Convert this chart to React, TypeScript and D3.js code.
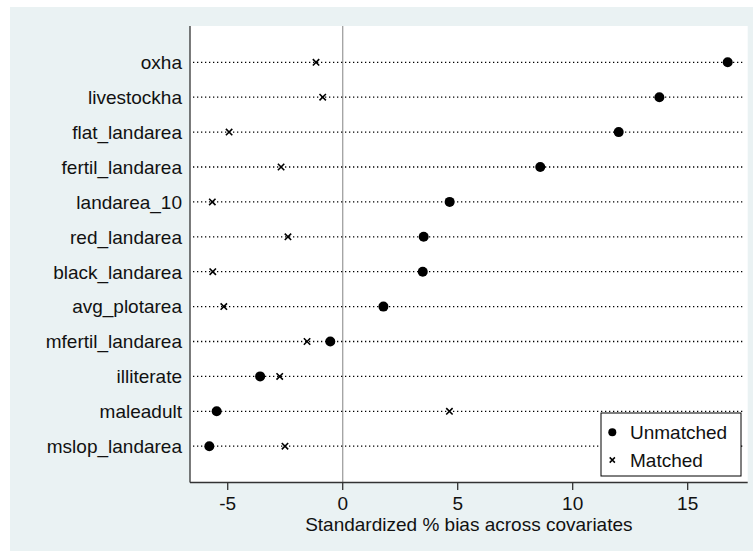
import React from "react";
import * as d3 from "d3";

const covariates = [
  "oxha",
  "livestockha",
  "flat_landarea",
  "fertil_landarea",
  "landarea_10",
  "red_landarea",
  "black_landarea",
  "avg_plotarea",
  "mfertil_landarea",
  "illiterate",
  "maleadult",
  "mslop_landarea",
];
const unmatched = [16.74, 13.77, 12.0, 8.59, 4.65, 3.52, 3.48, 1.77, -0.54, -3.59, -5.48, -5.8];
const matched = [-1.16, -0.87, -4.94, -2.68, -5.67, -2.38, -5.65, -5.17, -1.55, -2.74, 4.64, -2.51];
const xTicks = [-5, 0, 5, 10, 15];
const xTitle = "Standardized % bias across covariates";
const legendLabels = ["Unmatched", "Matched"];

const W = 753;
const H = 551;
const FONT = "'Liberation Sans', Arial, Helvetica, sans-serif";

export default function App() {
  const plot = { left: 190, right: 747.7, top: 26, bottom: 482.5 };
  const x = d3.scaleLinear().domain([-6.64, 17.61]).range([plot.left, plot.right]);
  const y = d3.scalePoint<string>().domain(covariates).range([plot.top, plot.bottom]).padding(1.04);

  const xMark = (cx: number, cy: number, s: number, key: string, sw = 1.6) => (
    <path
      key={key}
      d={`M${cx - s},${cy - s}L${cx + s},${cy + s}M${cx - s},${cy + s}L${cx + s},${cy - s}`}
      stroke="#000"
      strokeWidth={sw}
      fill="none"
    />
  );

  const leg = { x: 601, y: 413, w: 140, h: 63 };
  const legRows = [432.3, 460];

  return (
    <div style={{ position: "absolute", left: 0, top: 0 }}>
      <svg width={W} height={H} style={{ display: "block" }} fontFamily={FONT}>
        <rect x={0} y={0} width={W} height={H} fill="#ffffff" />
        <rect x={10} y={7} width={W - 10} height={H - 7} fill="#EAF2F3" />
        <rect
          x={plot.left}
          y={plot.top}
          width={plot.right - plot.left}
          height={plot.bottom - plot.top}
          fill="#ffffff"
        />
        {/* zero reference line */}
        <line x1={x(0)} x2={x(0)} y1={plot.top} y2={plot.bottom} stroke="#a0a0a0" strokeWidth={1.3} />
        {/* dotted row lines */}
        {covariates.map((c) => (
          <line
            key={"l" + c}
            x1={plot.left + 3}
            x2={plot.right - 4}
            y1={y(c)}
            y2={y(c)}
            stroke="#000"
            strokeWidth={1.3}
            strokeDasharray="1.3,2.7"
          />
        ))}
        {/* matched markers */}
        {covariates.map((c, i) => xMark(x(matched[i]), y(c)!, 3.2, "m" + c))}
        {/* unmatched markers */}
        {covariates.map((c, i) => (
          <circle key={"u" + c} cx={x(unmatched[i])} cy={y(c)} r={5} fill="#000" />
        ))}
        {/* axes */}
        <line x1={plot.left} x2={plot.left} y1={plot.top} y2={plot.bottom} stroke="#333" strokeWidth={1.3} />
        <line x1={plot.left} x2={plot.right} y1={plot.bottom} y2={plot.bottom} stroke="#333" strokeWidth={1.3} />
        {xTicks.map((t) => (
          <g key={"t" + t}>
            <line x1={x(t)} x2={x(t)} y1={plot.bottom} y2={plot.bottom + 7.5} stroke="#333" strokeWidth={1.3} />
            <text x={x(t)} y={510} textAnchor="middle" fontSize={19} fill="#111">
              {t < 0 ? "-" + Math.abs(t) : String(t)}
            </text>
          </g>
        ))}
        <text x={(plot.left + plot.right) / 2} y={530.5} textAnchor="middle" fontSize={19} fill="#111">
          {xTitle}
        </text>
        {/* y labels */}
        {covariates.map((c) => (
          <text key={"y" + c} x={182} y={y(c)! + 6.8} textAnchor="end" fontSize={19} fill="#111">
            {c}
          </text>
        ))}
        {/* legend */}
        <rect x={leg.x} y={leg.y} width={leg.w} height={leg.h} fill="#fff" stroke="#000" strokeWidth={1} />
        <circle cx={612.3} cy={legRows[0]} r={4} fill="#000" />
        {xMark(612.3, legRows[1], 2.6, "legx", 1.5)}
        {legendLabels.map((l, i) => (
          <text key={"lg" + l} x={630} y={legRows[i] + 6.8} fontSize={19} fill="#111">
            {l}
          </text>
        ))}
      </svg>
    </div>
  );
}
